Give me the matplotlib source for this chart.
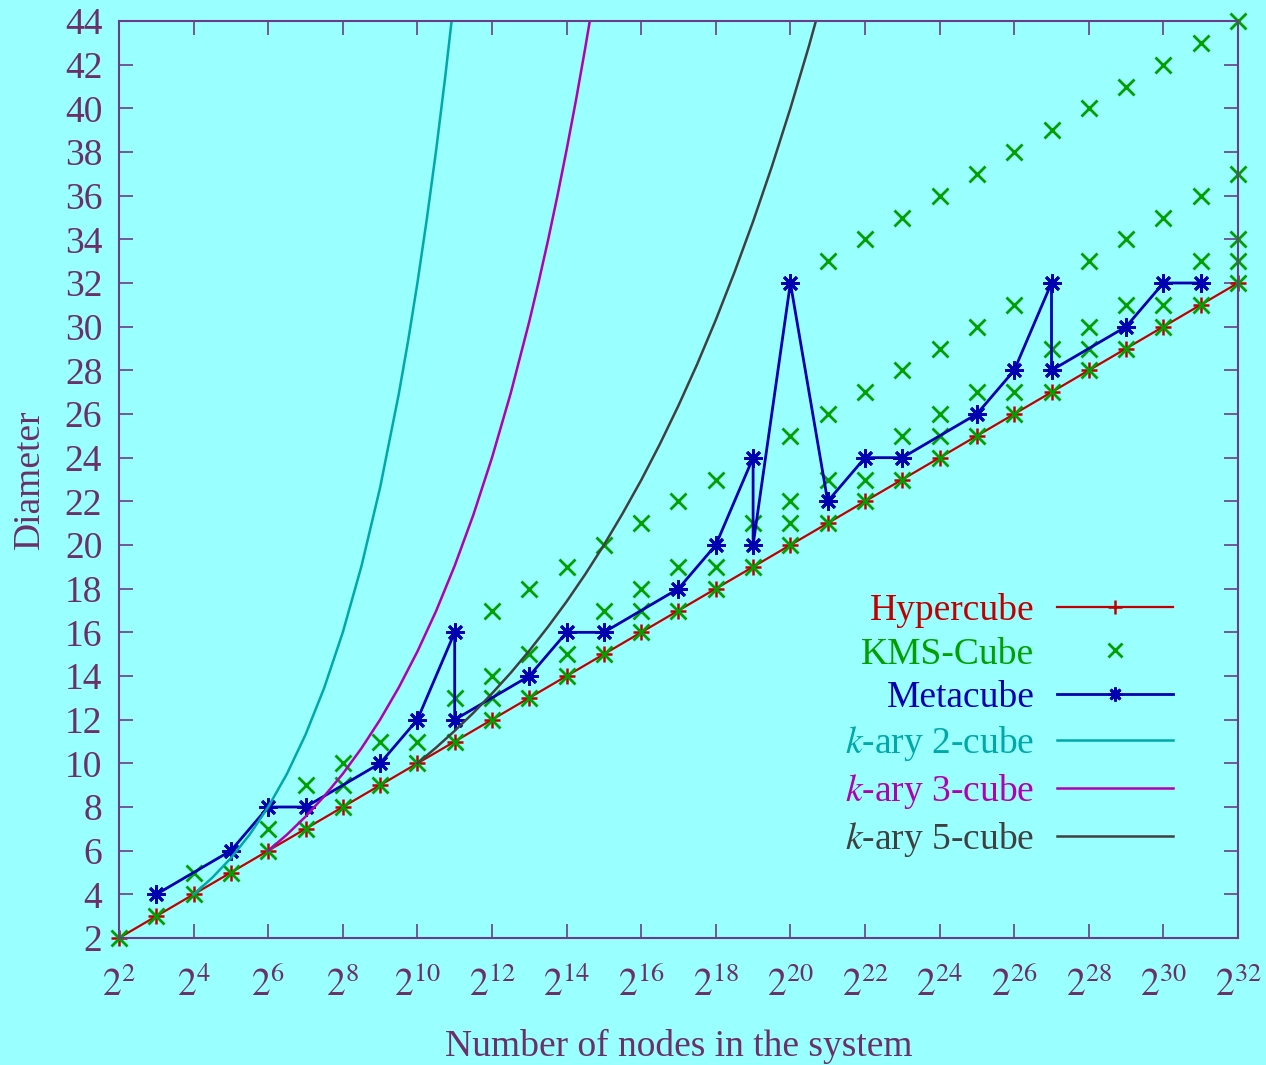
import numpy as np
import matplotlib.pyplot as plt

plt.rcParams['font.family'] = ['Liberation Serif', 'DejaVu Serif']
plt.rcParams['mathtext.fontset'] = 'stix'

BG = '#99ffff'
AXC = '#6a3d8a'
TXT = '#6b3068'

# log2 of the number of nodes
log2_nodes = [2, 3, 4, 5, 6, 7, 8, 9, 10, 11, 12, 13, 14, 15, 16, 17,
              18, 19, 20, 21, 22, 23, 24, 25, 26, 27, 28, 29, 30, 31, 32]

hypercube = [2, 3, 4, 5, 6, 7, 8, 9, 10, 11, 12, 13, 14, 15, 16, 17,
             18, 19, 20, 21, 22, 23, 24, 25, 26, 27, 28, 29, 30, 31, 32]

# KMS-Cube: several configurations per system size
kms_diam = [
    [2], [3], [4, 5], [5], [6, 7], [7, 9], [8, 9, 10], [9, 11], [10, 11],
    [11, 13], [12, 13, 14, 17], [13, 15, 18], [14, 15, 19], [15, 17, 20],
    [16, 17, 18, 21], [17, 19, 22], [18, 19, 23], [19, 21],
    [20, 21, 22, 25], [21, 23, 26, 33], [22, 23, 27, 34], [23, 25, 28, 35],
    [24, 25, 26, 29, 36], [25, 27, 30, 37], [26, 27, 31, 38], [27, 29, 39],
    [28, 29, 30, 33, 40], [29, 31, 34, 41], [30, 31, 35, 42],
    [31, 33, 36, 43], [32, 33, 34, 37, 44],
]

meta_x = [3, 5, 6, 7, 9, 10, 11, 11, 13, 14, 15, 17, 18, 19, 19, 20, 21,
          22, 23, 25, 26, 27, 27, 29, 30, 31]
meta_y = [4, 6, 8, 8, 10, 12, 16, 12, 14, 16, 16, 18, 20, 24, 20, 32, 22,
          24, 24, 26, 28, 32, 28, 30, 32, 32]

# k-ary n-cube curves
k2_x = [4, 4.5, 5, 5.5, 6, 6.5, 7, 7.5, 8, 8.5, 9, 9.5, 9.75, 10, 10.25,
        10.5, 10.75, 11]
k2_y = [4.0, 4.76, 5.66, 6.73, 8.0, 9.51, 11.31, 13.45, 16.0, 19.03,
        22.63, 26.91, 29.34, 32.0, 34.9, 38.05, 41.5, 45.25]

k3_x = [6, 6.5, 7, 7.5, 8, 8.5, 9, 9.5, 10, 10.5, 11, 11.5, 12, 12.5,
        13, 13.25, 13.5, 13.75, 14, 14.25, 14.5, 14.75, 15]
k3_y = [6.0, 6.73, 7.56, 8.49, 9.52, 10.69, 12.0, 13.47, 15.12, 16.97,
        19.05, 21.38, 24.0, 26.94, 30.24, 32.04, 33.94, 35.96, 38.1,
        40.36, 42.77, 45.3, 48.0]

k5_x = [10, 10.5, 11, 11.5, 12, 12.5, 13, 13.5, 14, 14.5, 15, 15.5, 16,
        16.5, 17, 17.5, 18, 18.5, 19, 19.5, 20, 20.5, 21]
k5_y = [10.0, 10.72, 11.49, 12.31, 13.2, 14.14, 15.16, 16.25, 17.41,
        18.66, 20.0, 21.44, 22.97, 24.62, 26.39, 28.28, 30.31, 32.49,
        34.82, 37.32, 40.0, 42.87, 45.95]

xticks = [2, 4, 6, 8, 10, 12, 14, 16, 18, 20, 22, 24, 26, 28, 30, 32]
yticks = [2, 4, 6, 8, 10, 12, 14, 16, 18, 20, 22, 24, 26, 28, 30, 32,
          34, 36, 38, 40, 42, 44]

RED = '#c00000'
GREEN = '#00a000'
BLUE = '#0000b0'
CYAN = '#00a8a8'
MAG = '#b000b0'
GRAY = '#404040'

kms_x = [x for x, ds in zip(log2_nodes, kms_diam) for _ in ds]
kms_y = [d for ds in kms_diam for d in ds]

fig = plt.figure(figsize=(12.66, 10.65), dpi=100)
fig.patch.set_facecolor(BG)
ax = fig.add_axes([119 / 1266, 1 - 938 / 1065, (1238 - 119) / 1266, (938 - 21) / 1065])
ax.set_facecolor(BG)

ax.plot(log2_nodes, hypercube, color=RED, lw=1.6, marker='+', ms=11,
        mew=1.8, label='Hypercube', clip_on=False)
ax.plot(kms_x, kms_y, ls='none', color=GREEN, marker='x', ms=12, mew=2.0,
        label='KMS-Cube', clip_on=False)
ax.plot(meta_x, meta_y, color=BLUE, lw=2.0, marker=(8, 2, 0), ms=13,
        mew=2.0, label='Metacube', clip_on=False)
ax.plot(k2_x, k2_y, color=CYAN, lw=1.8, label='$k$-ary 2-cube')
ax.plot(k3_x, k3_y, color=MAG, lw=1.8, label='$k$-ary 3-cube')
ax.plot(k5_x, k5_y, color=GRAY, lw=1.8, label='$k$-ary 5-cube')

ax.set_xlim(2, 32)
ax.set_ylim(2, 44)
ax.set_xticks(xticks)
ax.set_xticklabels([f'$2^{{{t}}}$' for t in xticks])
ax.set_yticks(yticks)
ax.tick_params(direction='in', length=10, width=1.2, color=AXC,
               top=True, right=True, labelsize=27, labelcolor=TXT)
ax.tick_params(axis='x', pad=21)
ax.tick_params(axis='y', pad=12)
for s in ax.spines.values():
    s.set_color(AXC)
    s.set_linewidth(1.5)

ax.set_xlabel('Number of nodes in the system', fontsize=27, color=TXT, labelpad=18)
ax.set_ylabel('Diameter', fontsize=27, color=TXT, labelpad=13)

leg = ax.legend(loc='upper right', bbox_to_anchor=(1173 / 1266, 1 - 593 / 1065),
                bbox_transform=fig.transFigure, frameon=False, markerfirst=False,
                fontsize=27, numpoints=1, handlelength=3.1, handletextpad=0.6,
                labelspacing=0.24, borderpad=0, borderaxespad=0)
for txt, c in zip(leg.get_texts(), [RED, GREEN, BLUE, CYAN, MAG, GRAY]):
    txt.set_color(c)
for h in leg.legend_handles:
    h.set_markersize(10)

fig.savefig('out.png', dpi=100, facecolor=BG)
